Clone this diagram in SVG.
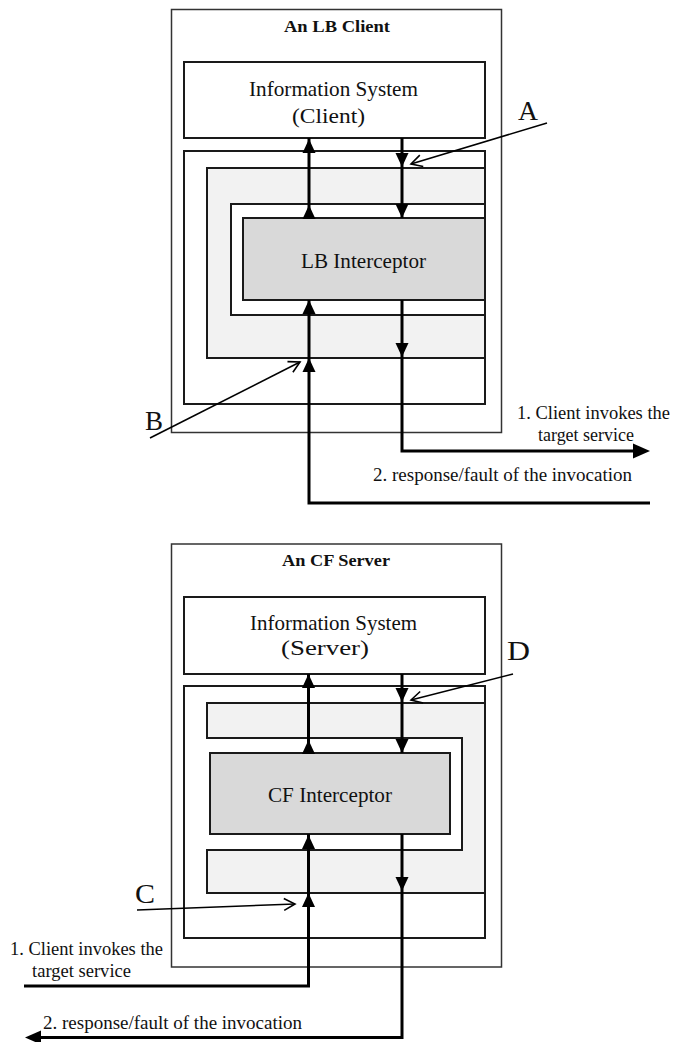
<svg xmlns="http://www.w3.org/2000/svg" width="673" height="1042" viewBox="0 0 673 1042">
  <style>
    .outer{fill:#fff;stroke:#333;stroke-width:1.5}
    .box{fill:#fff;stroke:#1a1a1a;stroke-width:2}
    .layer{fill:#f2f2f2;stroke:#1a1a1a;stroke-width:2}
    .core{fill:#d9d9d9;stroke:#1a1a1a;stroke-width:2}
    .flow{fill:none;stroke:#000;stroke-width:3}
    .ptr{fill:none;stroke:#000;stroke-width:1.6}
    .head{fill:#000}
    .t{font-family:"Liberation Serif","Times New Roman",serif;fill:#111}
    .title{font-size:16.5px;font-weight:bold}
    .name{font-size:21px}
    .note{font-size:19px}
    .tag{font-size:27px}
  </style>
  <defs>
    <!-- solid arrowheads, tip at the origin -->
    <path id="hu" d="M0,0 L6.5,14 L-6.5,14 Z"/>
    <path id="hd" d="M0,0 L6.5,-14 L-6.5,-14 Z"/>
    <path id="hr" d="M0,0 L-17,-7.5 L-17,7.5 Z"/>
    <path id="hl" d="M0,0 L16,-7 L16,7 Z"/>
    <!-- open arrowhead for the callout pointers -->
    <marker id="open" markerUnits="userSpaceOnUse" viewBox="-13 -8 15 16" markerWidth="15" markerHeight="16" refX="0" refY="0" orient="auto">
      <path d="M-11,-6 L0,0 L-11,6" fill="none" stroke="#000" stroke-width="1.6"/>
    </marker>
  </defs>

  <!-- ===== LB client ===== -->
  <g id="lb-client">
    <rect class="outer" x="171.5" y="9.5" width="330" height="423"/>
    <text class="t title" x="284" y="32" textLength="106" lengthAdjust="spacingAndGlyphs">An LB Client</text>
  </g>
  <g id="lb-info">
    <rect class="box" x="184" y="62" width="301" height="76"/>
    <text class="t name" x="249" y="96" textLength="169" lengthAdjust="spacingAndGlyphs">Information System</text>
    <text class="t name" x="292" y="123" textLength="73" lengthAdjust="spacingAndGlyphs">(Client)</text>
  </g>
  <g id="lb-frame">
    <rect class="box" x="184" y="151" width="301" height="253"/>
  </g>
  <g id="lb-layer">
    <path class="layer" d="M207,168 H485 V204 H231 V315 H485 V358 H207 Z"/>
  </g>
  <g id="lb-interceptor">
    <rect class="core" x="243" y="218" width="242" height="82"/>
    <text class="t name" x="301" y="268" textLength="125" lengthAdjust="spacingAndGlyphs">LB Interceptor</text>
  </g>

  <!-- ===== CF server ===== -->
  <g id="cf-server">
    <rect class="outer" x="171.5" y="544" width="330" height="423"/>
    <text class="t title" x="282" y="566" textLength="108" lengthAdjust="spacingAndGlyphs">An CF Server</text>
  </g>
  <g id="cf-info">
    <rect class="box" x="184" y="597" width="301" height="77"/>
    <text class="t name" x="250" y="630" textLength="167" lengthAdjust="spacingAndGlyphs">Information System</text>
    <text class="t name" x="281" y="655" textLength="88" lengthAdjust="spacingAndGlyphs">(Server)</text>
  </g>
  <g id="cf-frame">
    <rect class="box" x="184" y="686" width="301" height="252"/>
  </g>
  <g id="cf-layer">
    <path class="layer" d="M207,703 H485 V893 H207 V850 H462 V738 H207 Z"/>
  </g>
  <g id="cf-interceptor">
    <rect class="core" x="210" y="753" width="240" height="81"/>
    <text class="t name" x="268" y="802" textLength="124" lengthAdjust="spacingAndGlyphs">CF Interceptor</text>
  </g>

  <!-- ===== connectors ===== -->
  <g id="connectors">
    <!-- LB: request path down, response path up -->
    <path class="flow" d="M402,138 V218"/>
    <path class="flow" d="M402,300 V451 H634"/>
    <path class="flow" d="M309,138 V218"/>
    <path class="flow" d="M650,503 H309 V300"/>
    <use class="head" href="#hu" x="309" y="139"/>
    <use class="head" href="#hu" x="309" y="205"/>
    <use class="head" href="#hu" x="309" y="300"/>
    <use class="head" href="#hu" x="309" y="358"/>
    <use class="head" href="#hd" x="402" y="167"/>
    <use class="head" href="#hd" x="402" y="218"/>
    <use class="head" href="#hd" x="402" y="357"/>
    <use class="head" href="#hr" x="650" y="451"/>

    <!-- CF: request path up, response path down -->
    <path class="flow" d="M24,986 H308.5 V834"/>
    <path class="flow" d="M308.5,674 V753"/>
    <path class="flow" d="M402,674 V753"/>
    <path class="flow" d="M402,834 V1037.5 H40"/>
    <use class="head" href="#hu" x="308.5" y="674"/>
    <use class="head" href="#hu" x="308.5" y="740"/>
    <use class="head" href="#hu" x="308.5" y="835"/>
    <use class="head" href="#hu" x="308.5" y="893"/>
    <use class="head" href="#hd" x="402" y="702"/>
    <use class="head" href="#hd" x="402" y="753"/>
    <use class="head" href="#hd" x="402" y="891"/>
    <use class="head" href="#hl" x="25" y="1037.5"/>

    <!-- callout pointers -->
    <path class="ptr" d="M547,123 L411,164" marker-end="url(#open)"/>
    <path class="ptr" d="M150,438 L300,362" marker-end="url(#open)"/>
    <path class="ptr" d="M137,910 L295,904" marker-end="url(#open)"/>
    <path class="ptr" d="M513,674 L411,700" marker-end="url(#open)"/>
  </g>

  <!-- ===== labels ===== -->
  <g id="labels">
    <text class="t tag" x="518" y="120" textLength="20" lengthAdjust="spacingAndGlyphs">A</text>
    <text class="t tag" x="145" y="430" textLength="18" lengthAdjust="spacingAndGlyphs">B</text>
    <text class="t tag" x="135" y="903" textLength="20" lengthAdjust="spacingAndGlyphs">C</text>
    <text class="t tag" x="507" y="660" textLength="23" lengthAdjust="spacingAndGlyphs">D</text>

    <text class="t note" x="517" y="418.5" textLength="153" lengthAdjust="spacingAndGlyphs">1. Client invokes the</text>
    <text class="t note" x="538" y="440.5" textLength="96" lengthAdjust="spacingAndGlyphs">target service</text>
    <text class="t note" x="373" y="481" textLength="259" lengthAdjust="spacingAndGlyphs">2. response/fault of the invocation</text>

    <text class="t note" x="10" y="955" textLength="153" lengthAdjust="spacingAndGlyphs">1. Client invokes the</text>
    <text class="t note" x="32" y="976.5" textLength="99" lengthAdjust="spacingAndGlyphs">target service</text>
    <text class="t note" x="43" y="1029" textLength="259" lengthAdjust="spacingAndGlyphs">2. response/fault of the invocation</text>
  </g>
</svg>
